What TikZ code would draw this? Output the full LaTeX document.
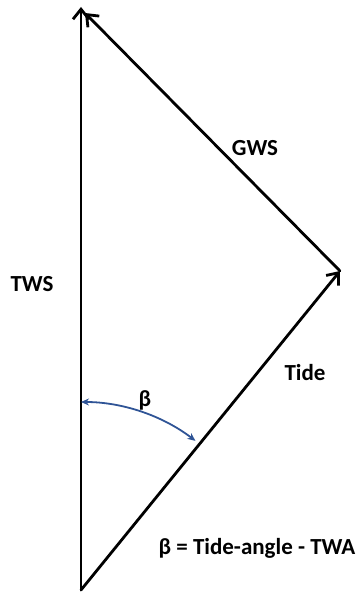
\documentclass[tikz,border=0pt]{standalone}
\usepackage{fontspec}
\setmainfont{Carlito}
\usetikzlibrary{arrows.meta,positioning}
\definecolor{ink}{RGB}{0,0,0}
\definecolor{arcblue}{RGB}{47,84,150}
\tikzset{
  every picture/.style={color=ink, font=\bfseries\fontsize{23}{27}\selectfont},
  vec/.style={-{Straight Barb[length=10pt,width=16pt,line width=2.8pt]}, line width=2.8pt, line cap=round},
  anglearc/.style={{Stealth[length=8pt,width=7pt]}-{Stealth[length=8pt,width=7pt]}, line width=1.8pt, color=arcblue},
  lbl/.style={inner sep=0pt, anchor=center},
}
\begin{document}
\begin{tikzpicture}[x=1pt, y=-1pt]
  \useasboundingbox (0,0) rectangle (363,593);
  % vertices of the triangle
  \coordinate (base) at (81,590);
  \coordinate (twsend) at (81,7);
  \coordinate (tideend) at (340,271);
  \coordinate (gwsend) at (85,13);
  % vectors
  \draw[vec] (base) -- (twsend);
  \draw[vec] (base) -- (tideend);
  \draw[vec] (tideend) -- (gwsend);
  % angle between TWS and Tide
  \draw[anglearc] (base) ++(0,-188) coordinate (arcstart) arc[start angle=270, end angle=307.5, radius=188] coordinate (arcend);
  % labels
  \node[lbl] (twslbl) at (32,284) {TWS};
  \node[lbl] (gwslbl) at (255,148) {GWS};
  \node[lbl] (tidelbl) at (305,373) {Tide};
  \node[lbl] (betalbl) at (145,400) {β};
  \node[lbl] (formula) at (257,548) {β = Tide-angle - TWA};
\end{tikzpicture}
\end{document}
